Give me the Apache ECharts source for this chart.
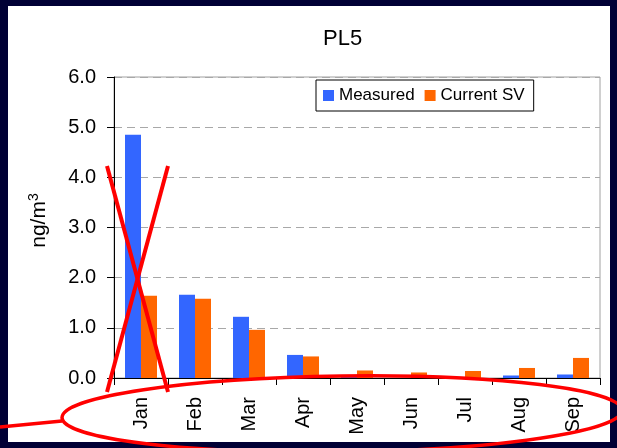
<!DOCTYPE html>
<html>
<head>
<meta charset="utf-8">
<script src="https://cdn.jsdelivr.net/npm/echarts@6/dist/echarts.min.js"></script>
<style>html,body{margin:0;padding:0;background:#000035;}#c{width:617px;height:448px;}</style>
</head>
<body>
<div id="c"></div>
<script>
const months = ['Jan','Feb','Mar','Apr','May','Jun','Jul','Aug','Sep'];
const measured = [4.85, 1.66, 1.22, 0.46, 0.04, 0.00, 0.01, 0.05, 0.07];
const currentSV = [1.64, 1.58, 0.96, 0.43, 0.15, 0.11, 0.14, 0.20, 0.40];
const yTicks = [0, 1, 2, 3, 4, 5, 6];

const FONT = '"Liberation Sans", Arial, sans-serif';
const chart = echarts.init(document.getElementById('c'), null, {renderer: 'canvas'});
chart.setOption({
  backgroundColor: '#000035',
  animation: false,
  title: {
    text: 'PL5', left: 318, top: 23,
    textStyle: {fontFamily: FONT, fontSize: 22, fontWeight: 'normal', color: '#000'}
  },
  legend: {
    left: 316, top: 80,
    padding: [7, 9, 7, 7],
    itemGap: 10, itemWidth: 11, itemHeight: 11,
    borderColor: '#000', borderWidth: 1, backgroundColor: '#fff',
    icon: 'rect',
    textStyle: {fontFamily: FONT, fontSize: 17, color: '#000'},
    data: ['Measured', 'Current SV']
  },
  grid: {
    left: 114, right: 17, top: 77, height: 301,
    show: true, borderColor: '#a0a0a0', borderWidth: 1, backgroundColor: 'transparent'
  },
  xAxis: {
    type: 'category', data: months,
    axisLine: {lineStyle: {color: '#000', width: 1}},
    axisTick: {show: true, length: 7, alignWithLabel: false, lineStyle: {color: '#000'}},
    axisLabel: {rotate: 90, margin: 19, fontFamily: FONT, fontSize: 20, color: '#000'}
  },
  yAxis: {
    type: 'value', min: yTicks[0], max: yTicks[yTicks.length - 1], interval: 1,
    name: 'ng/m{sup|3}', nameLocation: 'middle', nameGap: 63, nameRotate: 90,
    nameTextStyle: {fontFamily: FONT, fontSize: 21, color: '#000', padding: [0, 0, 0, 14],
      rich: {sup: {fontFamily: FONT, fontSize: 14, color: '#000', padding: [0, 0, 10, 0]}}},
    axisLine: {show: true, lineStyle: {color: '#000', width: 1}},
    axisTick: {show: true, length: 7, lineStyle: {color: '#000'}},
    axisLabel: {margin: 18, fontFamily: FONT, fontSize: 20, color: '#000',
      formatter: v => v.toFixed(1)},
    splitLine: {show: true, lineStyle: {color: '#a8a8a8', type: [8, 5], width: 1}}
  },
  series: [
    {name: 'Measured', type: 'bar', data: measured, barWidth: 16, barGap: '0%',
     itemStyle: {color: '#3366ff'}},
    {name: 'Current SV', type: 'bar', data: currentSV, barWidth: 16,
     itemStyle: {color: '#ff6600'}}
  ],
  graphic: [
    {type: 'rect', z: -10, silent: true, shape: {x: 8, y: 6, width: 602, height: 436},
     style: {fill: '#ffffff'}},
    {type: 'line', z: 100, silent: true, shape: {x1: 107, y1: 166, x2: 168, y2: 392},
     style: {stroke: '#ff0000', lineWidth: 4}},
    {type: 'line', z: 100, silent: true, shape: {x1: 168, y1: 166, x2: 107, y2: 392},
     style: {stroke: '#ff0000', lineWidth: 4}},
    {type: 'ellipse', z: 100, silent: true, x: 342, y: 414, rotation: 0.013,
     shape: {cx: 0, cy: 0, rx: 280, ry: 38},
     style: {fill: 'none', stroke: '#ff0000', lineWidth: 3.5}},
    {type: 'line', z: 100, silent: true, shape: {x1: 0, y1: 427, x2: 62, y2: 421},
     style: {stroke: '#ff0000', lineWidth: 3.5}}
  ]
});
</script>
</body>
</html>
